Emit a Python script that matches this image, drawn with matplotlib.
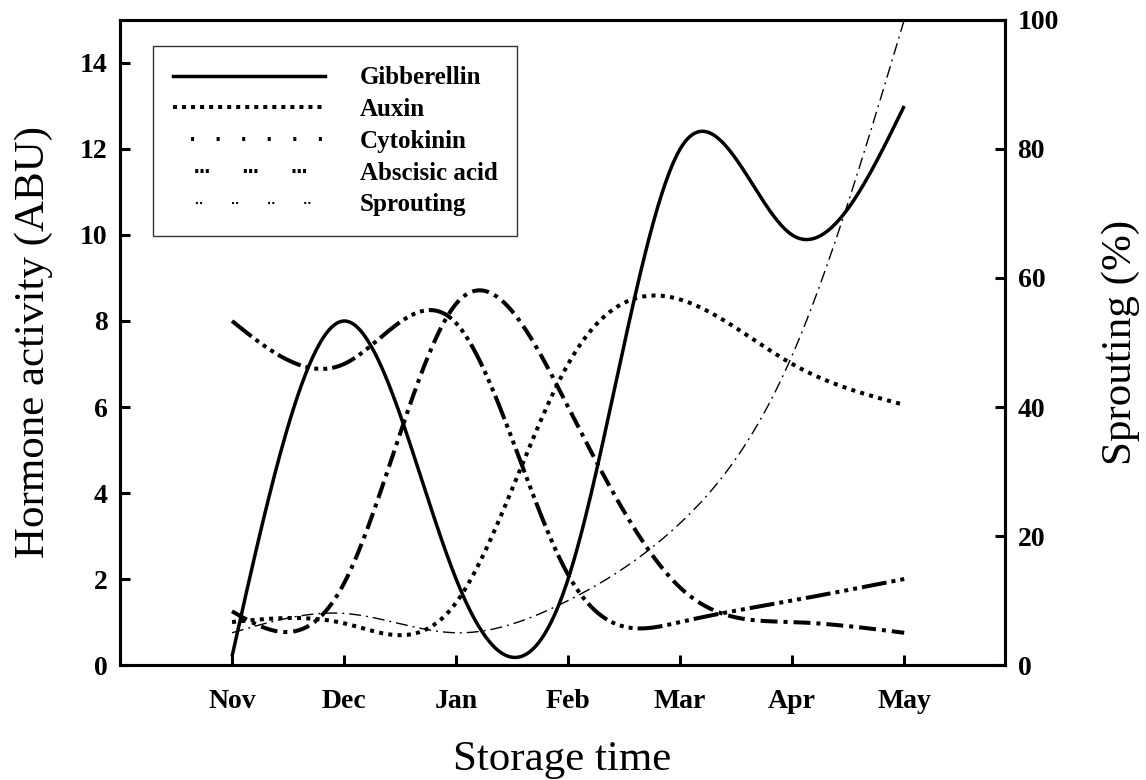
import numpy as np
import matplotlib
matplotlib.use("Agg")
import matplotlib.pyplot as plt
from matplotlib.lines import Line2D

months = ['Nov', 'Dec', 'Jan', 'Feb', 'Mar', 'Apr', 'May']
gibberellin = [0.2, 8.0, 2.0, 2.0, 12.0, 10.0, 13.0]
auxin = [1.0, 0.97, 1.45, 7.0, 8.5, 7.0, 6.05]
cytokinin = [1.25, 1.9, 8.4, 6.0, 1.8, 1.0, 0.75]
abscisic = [8.0, 7.0, 7.95, 2.1, 1.0, 1.5, 2.0]
sprouting = [5, 8, 5, 10, 22, 48, 100]
left_ticks = [0, 2, 4, 6, 8, 10, 12, 14]
right_ticks = [0, 20, 40, 60, 80, 100]


def natural_spline(y, n=60):
    y = np.asarray(y, dtype=float)
    k = len(y)
    A = np.zeros((k, k))
    d = np.zeros(k)
    A[0, 0] = 1
    A[-1, -1] = 1
    for i in range(1, k - 1):
        A[i, i - 1] = 1
        A[i, i] = 4
        A[i, i + 1] = 1
        d[i] = 6 * (y[i + 1] - 2 * y[i] + y[i - 1])
    M = np.linalg.solve(A, d)
    xs, ys = [], []
    for i in range(k - 1):
        t = np.linspace(0, 1, n, endpoint=(i == k - 2))
        s = (1 - t) * y[i] + t * y[i + 1] - t * (1 - t) / 6 * ((2 - t) * M[i] + (1 + t) * M[i + 1])
        xs.append(i + t)
        ys.append(s)
    return np.concatenate(xs), np.concatenate(ys)


plt.rcParams['font.family'] = ['Liberation Serif', 'DejaVu Serif']
plt.rcParams['lines.scale_dashes'] = False

fig = plt.figure(figsize=(11.46, 7.8), dpi=100)
ax = fig.add_axes([0.1047, 0.1474, 0.7723, 0.8270])
ax2 = ax.twinx()

x = np.arange(len(months))

gx, gy = natural_spline(gibberellin)
ax.plot(gx, gy, color='black', lw=2.5, solid_capstyle='butt')
axx, axy = natural_spline(auxin)
ax.plot(axx, axy, color='black', lw=2.9, linestyle=(0, (2.9, 3.8)))
cx, cy = natural_spline(cytokinin)
ax.plot(cx, cy, color='black', lw=2.9, linestyle=(0, (12.2, 4.3, 2.9, 4.3)))
bx, by = natural_spline(abscisic)
ax.plot(bx, by, color='black', lw=2.9,
        linestyle=(0, (18, 3.6, 2.9, 3.6, 2.9, 3.6, 2.9, 3.6)))
sx, sy = natural_spline(sprouting)
ax2.plot(sx, sy, color='black', lw=1.0, linestyle=(0, (8.6, 3.6, 1.4, 3.6)))

ax.set_xlim(-1, 6.9)
ax.set_ylim(0, 15)
ax2.set_ylim(0, 100)

ax.set_xticks(x)
ax.set_xticklabels(months)
ax.set_yticks(left_ticks)
ax2.set_yticks(right_ticks)

for a in (ax, ax2):
    for sp in a.spines.values():
        sp.set_linewidth(2.2)

ax.tick_params(axis='x', direction='in', length=7, width=2.2, pad=17,
               labelsize=20, top=False)
ax.tick_params(axis='y', direction='in', length=7, width=2.2, pad=9,
               labelsize=20)
ax2.tick_params(axis='y', direction='in', length=7, width=2.2, pad=9,
                labelsize=20)
for lab in ax.get_xticklabels() + ax.get_yticklabels() + ax2.get_yticklabels():
    lab.set_fontweight('bold')

ax.set_xlabel('Storage time', fontsize=31, labelpad=19)
ax.set_ylabel('Hormone activity (ABU)', fontsize=31, labelpad=19)
ax2.set_ylabel('Sprouting (%)', fontsize=31, labelpad=31)

handles = [
    Line2D([], [], color='black', lw=2.5),
    Line2D([], [], color='black', lw=2.9, linestyle=(0, (2.9, 3.6))),
    Line2D([], [], color='black', lw=2.9, linestyle=(5.4, (2.2, 16.2))),
    Line2D([], [], color='black', lw=2.9,
           linestyle=(19, (2.2, 1.6, 2.2, 1.6, 2.2, 25.2))),
    Line2D([], [], color='black', lw=1.5, linestyle=(9.5, (1.4, 1.6, 1.4, 21.6))),
]
labels = ['Gibberellin', 'Auxin', 'Cytokinin', 'Abscisic acid', 'Sprouting']
leg = ax.legend(handles, labels, loc='upper left', bbox_to_anchor=(0.037, 0.959),
                prop={'weight': 'bold', 'size': 18}, handlelength=6.08,
                handletextpad=1.4, labelspacing=0.35, borderpad=0.8,
                fancybox=False, frameon=True, borderaxespad=0)
leg.get_frame().set_edgecolor('black')
leg.get_frame().set_linewidth(1.0)
leg.set_zorder(5)

fig.savefig('out.png', dpi=100)
